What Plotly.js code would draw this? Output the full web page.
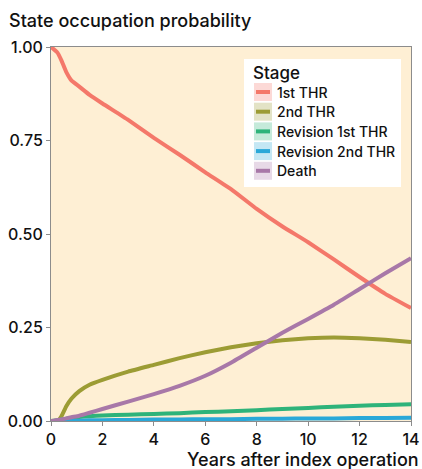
<!DOCTYPE html>
<html><head><meta charset="utf-8">
<script src="https://cdn.plot.ly/plotly-3.0.1.min.js"></script>
<style>html,body{margin:0;padding:0;background:#fff}#c{width:422px;height:469px}</style>
</head><body><div id="c"></div>
<script>
var years = [0,0.25,0.4,0.6,0.8,1.1,1.5,2,3,4,5,6,7,8,9,10,11,12,13,14];
var thr1 = [1.0,0.985,0.965,0.932,0.91,0.894,0.872,0.849,0.805,0.757,0.712,0.665,0.62,0.567,0.52,0.478,0.432,0.385,0.34,0.302];
var thr2 = [0,0,0.012,0.04,0.06,0.08,0.097,0.11,0.132,0.15,0.168,0.184,0.197,0.208,0.216,0.221,0.223,0.221,0.217,0.211];
var rev1 = [0,0.002,0.004,0.006,0.009,0.011,0.013,0.015,0.017,0.019,0.021,0.024,0.026,0.029,0.032,0.035,0.038,0.041,0.043,0.045];
var rev2 = [0,0,0,0.001,0.001,0.001,0.002,0.002,0.003,0.004,0.004,0.005,0.005,0.006,0.006,0.007,0.007,0.008,0.008,0.009];
var death = [0,0.003,0.004,0.007,0.01,0.014,0.022,0.032,0.052,0.072,0.094,0.121,0.156,0.196,0.236,0.273,0.311,0.353,0.395,0.435];
var stageNames = ["1st THR","2nd THR","Revision 1st THR","Revision 2nd THR","Death"];
var stageColors = ["#f4786a","#9c9c34","#2eb37a","#2aa8d8","#a878a8"];
var series = [thr1,thr2,rev1,rev2,death];
var xTicks = [0,2,4,6,8,10,12,14];
var yTicks = [0,0.25,0.5,0.75,1];

var FONT = "Inter, Liberation Sans, Arial, sans-serif";
var W = 500;
var traces = series.map(function(s,i){
  return {x:years, y:s, type:"scatter", mode:"lines", name:stageNames[i],
    line:{color:stageColors[i], width:4, shape:"spline", smoothing:0.4}, showlegend:false, hoverinfo:"skip"};
});

var L=51,R=411,T=47,B=421;
function px2x(p){return (p-L)/(R-L);}
function px2y(p){return (B-p)/(B-T);}
var shapes=[], annotations=[];
shapes.push({type:"rect",xref:"paper",yref:"paper",x0:px2x(244),x1:px2x(401),y0:px2y(187),y1:px2y(59),
  fillcolor:"#ffffff",line:{width:0},layer:"above"});
annotations.push({xref:"paper",yref:"paper",x:px2x(251),y:px2y(73),text:"Stage",showarrow:false,
  xanchor:"left",yanchor:"middle",font:{family:FONT,size:17,color:"#111",weight:W}});
for(var i=0;i<stageNames.length;i++){
  var cy = 92 + i*19.7;
  shapes.push({type:"rect",xref:"paper",yref:"paper",x0:px2x(254),x1:px2x(272),y0:px2y(cy+9),y1:px2y(cy-9),
    fillcolor:stageColors[i],opacity:0.28,line:{width:0},layer:"above"});
  shapes.push({type:"line",xref:"paper",yref:"paper",x0:px2x(256),x1:px2x(270),y0:px2y(cy),y1:px2y(cy),
    line:{color:stageColors[i],width:4},layer:"above"});
  annotations.push({xref:"paper",yref:"paper",x:px2x(275),y:px2y(cy),text:stageNames[i],showarrow:false,
    xanchor:"left",yanchor:"middle",font:{family:FONT,size:14,color:"#111",weight:W}});
}
annotations.push({xref:"paper",yref:"paper",x:px2x(421),y:px2y(447),text:"Years after index operation",
  showarrow:false,xanchor:"right",yanchor:"top",font:{family:FONT,size:18,color:"#111",weight:W}});

var layout = {
  width:422,height:469,
  margin:{l:L,r:422-R,t:T,b:469-B,pad:0},
  paper_bgcolor:"#ffffff", plot_bgcolor:"#feefd4",
  font:{family:FONT,color:"#111"},
  title:{text:"State occupation probability",x:9/422,xanchor:"left",y:1-21/469,yanchor:"middle",
    font:{family:FONT,size:18,color:"#111",weight:W}},
  xaxis:{range:[0,14],tickvals:xTicks,ticktext:xTicks.map(String),showgrid:false,zeroline:false,
    showline:true,linecolor:"#8c8c8c",linewidth:1,mirror:true,ticks:"outside",ticklen:4,tickcolor:"#8c8c8c",
    tickfont:{family:FONT,size:16,color:"#111",weight:W}},
  yaxis:{range:[0,1],tickvals:yTicks,tickformat:".2f",showgrid:false,zeroline:false,
    showline:true,linecolor:"#8c8c8c",linewidth:1,mirror:true,ticks:"outside",ticklen:4,tickcolor:"#8c8c8c",
    tickfont:{family:FONT,size:16,color:"#111",weight:W}},
  shapes:shapes, annotations:annotations, showlegend:false
};
Plotly.newPlot("c",traces,layout,{displayModeBar:false,staticPlot:true});
</script></body></html>
